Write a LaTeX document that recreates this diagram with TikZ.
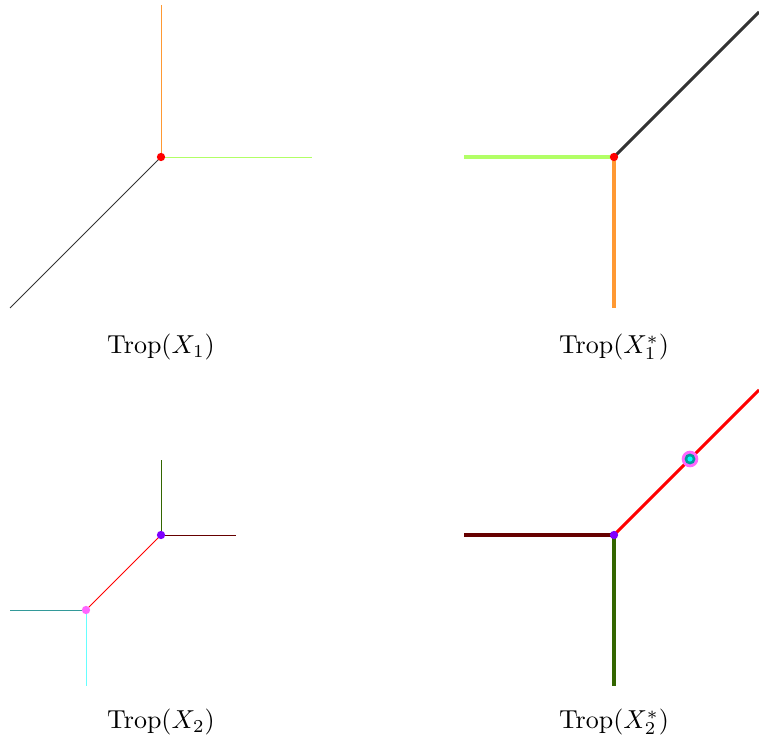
\documentclass[tikz,border=0pt]{standalone}
\begin{document}
\begin{tikzpicture}[x=0.385pt,y=-0.385pt,
  thin line/.style={line width=0.35pt},
  thick line/.style={line width=1.2pt},
  vdot/.style={circle,inner sep=0pt,minimum size=3.2pt},
  lbl/.style={inner sep=0pt,font=\normalsize}]
\definecolor{corange}{RGB}{255,153,51}
\definecolor{cgreen}{RGB}{178,255,102}
\definecolor{cdark}{RGB}{51,51,51}
\definecolor{cdred}{RGB}{102,0,0}
\definecolor{cdgreen}{RGB}{51,102,0}
\definecolor{cpurple}{RGB}{127,0,255}
\definecolor{cpink}{RGB}{255,102,255}
\definecolor{cteal}{RGB}{51,153,153}
\definecolor{ccyan}{RGB}{102,255,255}
\definecolor{mteal}{RGB}{0,153,153}
\definecolor{mcyan}{RGB}{0,255,255}
\useasboundingbox (0,0) rectangle (759,740);
% panel 1
\coordinate (a0) at (161,157);
\coordinate (a1) at (161,5);
\coordinate (a2) at (312,157);
\coordinate (a3) at (10,308);
\draw[thin line,corange] (a0) -- (a1);
\draw[thin line,cgreen] (a0) -- (a2);
\draw[thin line,cdark] (a0) -- (a3);
\node[vdot,fill=red] (d1) at (a0) {};
\node[lbl] (l1) at (161,347) {Trop$(X_1)$};
% panel 2
\coordinate (b0) at (614,157);
\coordinate (b1) at (464,157);
\coordinate (b2) at (614,308);
\coordinate (b3) at (759,12);
\draw[thick line,cgreen] (b0) -- (b1);
\draw[thick line,corange] (b0) -- (b2);
\draw[thick line,cdark] (b0) -- (b3);
\node[vdot,fill=red] (d2) at (b0) {};
\node[lbl] (l2) at (614,347) {Trop$(X_1^*)$};
% panel 3
\coordinate (c0) at (161,535);
\coordinate (c1) at (161,460);
\coordinate (c2) at (236,535);
\coordinate (c3) at (86,610);
\coordinate (c4) at (10,610);
\coordinate (c5) at (86,686);
\draw[thin line,cdgreen] (c0) -- (c1);
\draw[thin line,cdred] (c0) -- (c2);
\draw[thin line,red] (c0) -- (c3);
\draw[thin line,cteal] (c3) -- (c4);
\draw[thin line,ccyan] (c3) -- (c5);
\node[vdot,fill=cpurple] (d3) at (c0) {};
\node[vdot,fill=cpink] (d4) at (c3) {};
\node[lbl] (l3) at (161,722) {Trop$(X_2)$};
% panel 4
\coordinate (e0) at (614,535);
\coordinate (e1) at (464,535);
\coordinate (e2) at (614,686);
\coordinate (e3) at (759,390);
\draw[thick line,cdred] (e0) -- (e1);
\draw[thick line,cdgreen] (e0) -- (e2);
\draw[thick line,red] (e0) -- (e3);
\node[vdot,fill=cpurple] (d5) at (e0) {};
\node[circle,inner sep=0pt,minimum size=6.4pt,fill=cpink] (m1) at (690,459) {};
\node[circle,inner sep=0pt,minimum size=4.2pt,fill=mteal] (m2) at (690,459) {};
\node[circle,inner sep=0pt,minimum size=2pt,fill=mcyan] (m3) at (690,459) {};
\node[lbl] (l4) at (614,722) {Trop$(X_2^*)$};
\end{tikzpicture}
\end{document}
